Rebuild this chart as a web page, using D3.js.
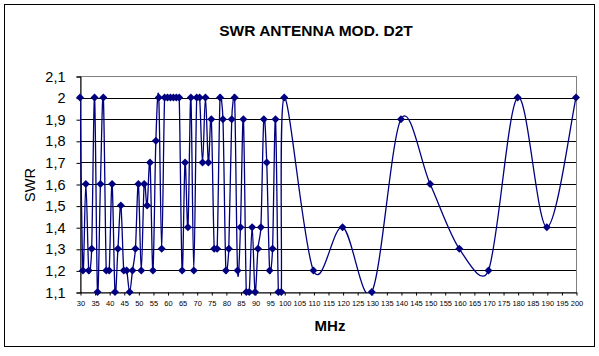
<!DOCTYPE html>
<html><head><meta charset="utf-8">
<script src="https://cdn.jsdelivr.net/npm/d3@7"></script>
<style>body{margin:0;background:#fff}svg{display:block}</style>
</head><body>
<script>
const freqs = [30,31,32,33,34,35,36,37,38,39,40,41,42,43,44,45,46,47,48,49,50,51,52,53,54,55,56,57,58,59,60,61,62,63,64,65,66,67,68,69,70,71,72,73,74,75,76,77,78,79,80,81,82,83,84,85,86,87,88,89,90,91,92,93,94,95,96,97,98,99,100,110,120,130,140,150,160,170,180,190,200];
const swr = [2.0,1.2,1.6,1.2,1.3,2.0,1.1,1.6,2.0,1.2,1.2,1.6,1.1,1.3,1.5,1.2,1.2,1.1,1.2,1.3,1.6,1.2,1.6,1.5,1.7,1.2,1.8,2.0,1.3,2.0,2.0,2.0,2.0,2.0,2.0,1.2,1.7,1.4,2.0,1.2,2.0,2.0,1.7,2.0,1.7,1.9,1.3,1.3,2.0,1.9,1.2,1.3,1.9,2.0,1.2,1.4,1.9,1.1,1.1,1.4,1.1,1.3,1.4,1.9,1.7,1.2,1.3,1.9,1.1,1.1,2.0,1.2,1.4,1.1,1.9,1.6,1.3,1.2,2.0,1.4,2.0];
const xTicks = [30,35,40,45,50,55,60,65,70,75,80,85,90,95,100,105,110,115,120,125,130,135,140,145,150,155,160,165,170,175,180,185,190,195,200];
const yTicks = [1.1,1.2,1.3,1.4,1.5,1.6,1.7,1.8,1.9,2.0,2.1];
const title = "SWR ANTENNA MOD. D2T";
const xTitle = "MHz", yTitle = "SWR";

const W = 599, H = 356;
const L = 80, R = 576, T = 76, B = 292;
const FONT = "Liberation Sans, Arial, sans-serif";
const svg = d3.select("body").append("svg").attr("width", W).attr("height", H);
const x = d3.scaleLinear().domain([30, 200]).range([L, R]);
const y = d3.scaleLinear().domain([1.1, 2.1]).range([B, T]);
const loc = d3.formatLocale({decimal: ",", thousands: ".", grouping: [3], currency: ["", ""]});
const fmt = loc.format(".1~f");
const navy = "#000080";

svg.append("rect").attr("x", 4.5).attr("y", 4.5).attr("width", 590).attr("height", 342)
  .attr("fill", "#fff").attr("stroke", "#000").attr("stroke-width", 1);

svg.append("text").attr("x", 316).attr("y", 36).attr("text-anchor", "middle")
  .attr("font-family", FONT).attr("font-weight", "bold")
  .attr("font-size", 15.5).text(title);

// gridlines
svg.append("g").selectAll("line").data(yTicks.filter(d => d > 1.15 && d < 2.05)).join("line")
  .attr("x1", L).attr("x2", R).attr("y1", d => Math.round(y(d)) + 0.5).attr("y2", d => Math.round(y(d)) + 0.5)
  .attr("stroke", "#000").attr("stroke-width", 1);

// plot border
svg.append("rect").attr("x", L + 0.5).attr("y", T + 0.5).attr("width", R - L).attr("height", B - T)
  .attr("fill", "none").attr("stroke", "#808080");

// y axis
const ya = svg.append("g").attr("transform", `translate(${L + 0.5},0.5)`)
  .call(d3.axisLeft(y).tickValues(yTicks).tickFormat(fmt).tickSize(4).tickPadding(11));
ya.select(".domain").attr("stroke", "#000");
ya.selectAll("text").attr("font-family", FONT).attr("font-size", 14.5).attr("fill", "#000");

// x axis
const xa = svg.append("g").attr("transform", `translate(0.5,${B + 0.5})`)
  .call(d3.axisBottom(x).tickValues(xTicks).tickFormat(d3.format("d")).tickSize(3).tickPadding(5).tickSizeOuter(0));
xa.select(".domain").attr("stroke", "#000");
xa.selectAll("text").attr("font-family", FONT).attr("font-size", 7.5).attr("fill", "#000");

svg.append("text").attr("x", 330).attr("y", 331).attr("text-anchor", "middle")
  .attr("font-family", FONT).attr("font-weight", "bold").attr("font-size", 15).text(xTitle);
svg.append("text").attr("transform", "translate(35,185) rotate(-90)").attr("text-anchor", "middle")
  .attr("font-family", FONT).attr("font-size", 14.5).text(yTitle);

// clip
svg.append("clipPath").attr("id", "clip").append("rect").attr("x", L).attr("y", T).attr("width", R - L + 3).attr("height", B - T + 1);

// Excel-like smoothing: Catmull-Rom legs (1/6 of neighbour chord), limited to half of the segment
const pts = freqs.map((f, i) => [f, swr[i]]);
const P = pts.map(d => [x(d[0]), y(d[1])]);
function smoothPath(P) {
  const dist = (a, b) => Math.hypot(b[0] - a[0], b[1] - a[1]);
  let s = `M${P[0][0]},${P[0][1]}`;
  for (let i = 0; i < P.length - 1; i++) {
    const p0 = P[Math.max(0, i - 1)], p1 = P[i], p2 = P[i + 1], p3 = P[Math.min(P.length - 1, i + 2)];
    const d02 = dist(p0, p2), d12 = dist(p1, p2), d13 = dist(p1, p3);
    const f1 = (d02 / 6 < d12 / 2) ? 1 / 6 : d12 / (2 * d02);
    const f2 = (d13 / 6 < d12 / 2) ? 1 / 6 : d12 / (2 * d13);
    const c1 = [p1[0] + (p2[0] - p0[0]) * f1, p1[1] + (p2[1] - p0[1]) * f1];
    const c2 = [p2[0] - (p3[0] - p1[0]) * f2, p2[1] - (p3[1] - p1[1]) * f2];
    s += `C${c1[0]},${c1[1]},${c2[0]},${c2[1]},${p2[0]},${p2[1]}`;
  }
  return s;
}
svg.append("path").attr("d", smoothPath(P)).attr("fill", "none").attr("stroke", navy).attr("stroke-width", 1.3)
  .attr("clip-path", "url(#clip)");

svg.append("g").selectAll("path").data(pts).join("path")
  .attr("transform", d => `translate(${x(d[0])},${y(d[1])})`)
  .attr("d", "M0,-4L4,0L0,4L-4,0Z").attr("fill", navy);
</script>
</body></html>
